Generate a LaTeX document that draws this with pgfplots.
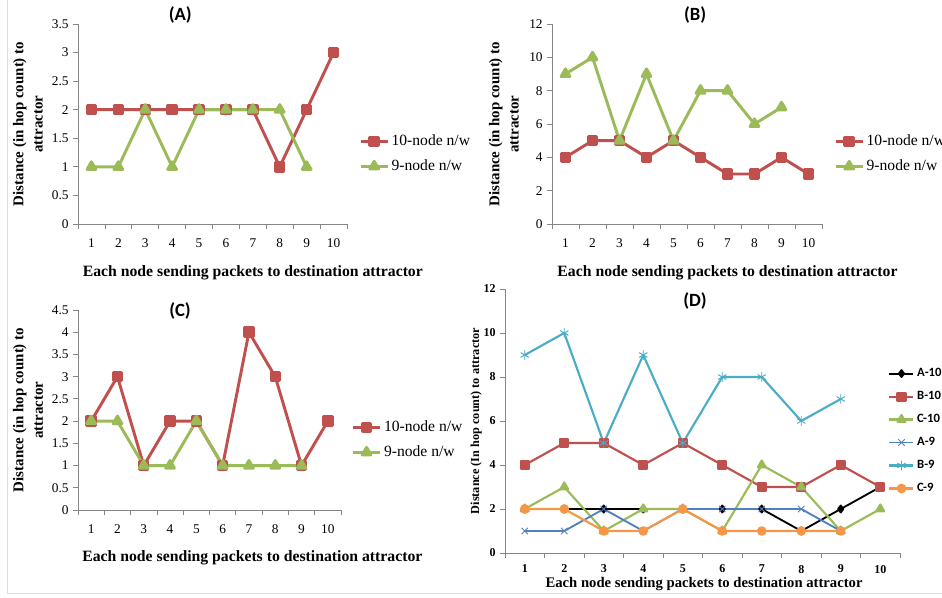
\documentclass[border=0pt]{standalone}
\usepackage{pgfplots}
\pgfplotsset{compat=1.18}
\usepackage{fontspec}
\setmainfont{Liberation Serif}
\newfontfamily\calib{Carlito}
\definecolor{exred}{HTML}{C0504D}
\definecolor{exgreen}{HTML}{9BBB59}
\definecolor{exblue}{HTML}{4F81BD}
\definecolor{excyan}{HTML}{4BACC6}
\definecolor{exorange}{HTML}{F79646}
\definecolor{axgray}{HTML}{868686}
\pgfplotsset{
 exbase/.style={
  scale only axis,
  axis lines*=left,
  axis line style={draw=axgray,line width=0.6pt},
  tick style={draw=axgray,line width=0.6pt},
  tick align=outside,
  major tick length=3.5pt,
  xmin=0.5,xmax=10.5,
  xtick={0.5,1.5,...,10.5},
  x tick label as interval,
  xticklabels={1,2,3,4,5,6,7,8,9,10},
  /pgf/number format/assume math mode=true,
  clip=false,
  every axis plot/.append style={line join=round},
 },
 exabc/.style={exbase,
  tick label style={font=\fontsize{10}{12}\selectfont},
  xticklabel style={yshift=-4pt},
  xlabel style={anchor=center,font=\bfseries\fontsize{11.8}{14}\selectfont},
  ylabel style={align=center,anchor=center,font=\bfseries\fontsize{11.2}{14.5}\selectfont},
  legend style={draw=none, fill=none, font=\fontsize{11.7}{13}\selectfont, anchor=west, row sep=5pt, inner sep=0pt, cells={anchor=west}},
  legend image code/.code={\draw[mark repeat=2,mark phase=2,##1] plot coordinates {(0pt,0pt) (10pt,0pt) (20pt,0pt)};},
 },
 s10/.style={color=exred, line width=2.2pt, mark=square*, mark size=3.2pt, mark options={solid}},
 s9/.style={color=exgreen, line width=2.2pt, mark=triangle*, mark size=3.8pt, mark options={solid}},
}
\begin{document}
\begin{tikzpicture}[x=0.75pt,y=0.75pt]
\useasboundingbox (0,0) rectangle (942,598);
\draw[black!13,line width=0.75pt] (7,598) -- (7,4) -- (942,4);
% (A)
\begin{axis}[exabc, at={(58.5pt,280.5pt)}, anchor=south west,
  width=201.75pt, height=150pt,
  ymin=0, ymax=3.5, ytick={0,0.5,...,3.5},
  ylabel={Distance (in hop count) to\\attractor},
  ylabel style={at={(axis description cs:-0.186,0.5)}},
  xlabel={Each node sending packets to destination attractor},
  xlabel style={at={(axis description cs:0.65,-0.245)}},
  legend style={at={(axis description cs:1.045,0.35)}},
]
\addplot[s10] coordinates {(1,2)(2,2)(3,2)(4,2)(5,2)(6,2)(7,2)(8,1)(9,2)(10,3)};
\addplot[s9] coordinates {(1,1)(2,1)(3,2)(4,1)(5,2)(6,2)(7,2)(8,2)(9,1)};
\legend{10-node n/w,9-node n/w}
\node[font=\calib\bfseries\fontsize{14}{16}\selectfont] at (axis description cs:0.38,1.045) {(A)};
\end{axis}
% (B)
\begin{axis}[exabc, at={(414pt,280.5pt)}, anchor=south west,
  width=202.5pt, height=150pt,
  ymin=0, ymax=12, ytick={0,2,...,12},
  ylabel={Distance (in hop count) to\\attractor},
  ylabel style={at={(axis description cs:-0.178,0.5)}},
  xlabel={Each node sending packets to destination attractor},
  xlabel style={at={(axis description cs:0.65,-0.245)}},
  legend style={at={(axis description cs:1.045,0.35)}},
]
\addplot[s10] coordinates {(1,4)(2,5)(3,5)(4,4)(5,5)(6,4)(7,3)(8,3)(9,4)(10,3)};
\addplot[s9] coordinates {(1,9)(2,10)(3,5)(4,9)(5,5)(6,8)(7,8)(8,6)(9,7)};
\legend{10-node n/w,9-node n/w}
\node[font=\calib\bfseries\fontsize{14}{16}\selectfont] at (axis description cs:0.53,1.045) {(B)};
\end{axis}
% (C)
\begin{axis}[exabc, at={(58.5pt,66pt)}, anchor=south west,
  width=197.25pt, height=150pt,
  ymin=0, ymax=4.5, ytick={0,0.5,...,4.5},
  ylabel={Distance (in hop count) to\\attractor},
  ylabel style={at={(axis description cs:-0.19,0.5)}},
  xlabel={Each node sending packets to destination attractor},
  xlabel style={at={(axis description cs:0.663,-0.24)}},
  legend style={at={(axis description cs:1.04,0.35)}},
]
\addplot[s10] coordinates {(1,2)(2,3)(3,1)(4,2)(5,2)(6,1)(7,4)(8,3)(9,1)(10,2)};
\addplot[s9] coordinates {(1,2)(2,2)(3,1)(4,1)(5,2)(6,1)(7,1)(8,1)(9,1)};
\legend{10-node n/w,9-node n/w}
\node[font=\calib\bfseries\fontsize{14}{16}\selectfont] at (axis description cs:0.388,0.995) {(C)};
\end{axis}
% (D)
\begin{axis}[exbase, at={(378.75pt,33.75pt)}, anchor=south west,
  width=296.25pt, height=198pt,
  ymin=0, ymax=12, ytick={0,2,...,12},
  tick label style={font=\bfseries\fontsize{9}{10}\selectfont},
  xticklabel style={yshift=-2pt},
  ylabel={Distance (In hop count) to attractor},
  ylabel style={at={(axis description cs:-0.073,0.5)},anchor=center,font=\bfseries\fontsize{9.2}{11}\selectfont},
  xlabel={Each node sending packets to destination attractor},
  xlabel style={at={(axis description cs:0.504,-0.118)},anchor=center,font=\bfseries\fontsize{11}{12}\selectfont},
  legend style={draw=none, fill=none, font=\calib\bfseries\fontsize{9.5}{11}\selectfont, anchor=west, row sep=5.5pt, inner sep=0pt, cells={anchor=west}, at={(axis description cs:0.97,0.462)}},
  legend image code/.code={\draw[mark repeat=2,mark phase=2,#1] plot coordinates {(0pt,0pt) (9pt,0pt) (18pt,0pt)};},
]
\addplot[color=black, line width=1.4pt, mark=diamond*, mark size=2.6pt, mark options={solid}] coordinates {(1,2)(2,2)(3,2)(4,2)(5,2)(6,2)(7,2)(8,1)(9,2)(10,3)};
\addplot[color=exred, line width=1.6pt, mark=square*, mark size=3pt, mark options={solid}] coordinates {(1,4)(2,5)(3,5)(4,4)(5,5)(6,4)(7,3)(8,3)(9,4)(10,3)};
\addplot[color=exgreen, line width=1.6pt, mark=triangle*, mark size=3.4pt, mark options={solid}] coordinates {(1,2)(2,3)(3,1)(4,2)(5,2)(6,1)(7,4)(8,3)(9,1)(10,2)};
\addplot[color=exblue, line width=1.4pt, mark=x, mark size=3.4pt, mark options={solid,line width=0.7pt}] coordinates {(1,1)(2,1)(3,2)(4,1)(5,2)(6,2)(7,2)(8,2)(9,1)};
\addplot[color=excyan, line width=1.6pt, mark=asterisk, mark size=3.6pt, mark options={solid,line width=0.7pt}] coordinates {(1,9)(2,10)(3,5)(4,9)(5,5)(6,8)(7,8)(8,6)(9,7)};
\addplot[color=exorange, line width=1.6pt, mark=*, mark size=2.8pt, mark options={solid}] coordinates {(1,2)(2,2)(3,1)(4,1)(5,2)(6,1)(7,1)(8,1)(9,1)};
\legend{A-10,B-10,C-10,A-9,B-9,C-9}
\node[font=\calib\bfseries\fontsize{14}{16}\selectfont] at (axis description cs:0.481,0.955) {(D)};
\end{axis}
\end{tikzpicture}
\end{document}
